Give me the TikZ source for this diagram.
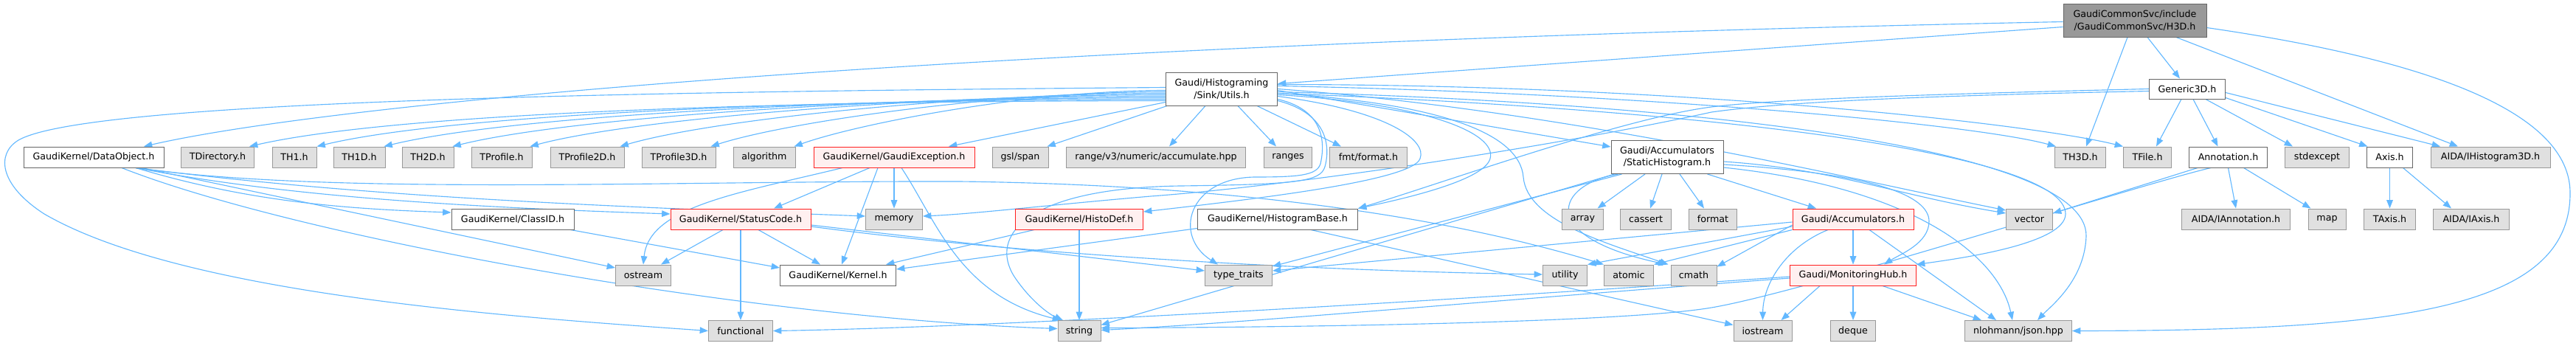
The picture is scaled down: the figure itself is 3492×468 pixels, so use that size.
\documentclass[tikz,border=0pt]{standalone}
\usepackage{fontspec}
\setmainfont{DejaVu Sans}
\usetikzlibrary{arrows.meta,calc,backgrounds}
\definecolor{edgec}{HTML}{63B8FF}
\definecolor{gborder}{HTML}{999999}
\definecolor{gfill}{HTML}{E0E0E0}
\definecolor{wborder}{HTML}{666666}
\definecolor{rfill}{HTML}{FFF0F0}
\definecolor{rborder}{HTML}{FF2020}
\definecolor{mfill}{HTML}{999999}
\begin{document}
\begin{tikzpicture}[x=0.75pt,y=-0.75pt,
  font=\fontsize{9.5}{12.5}\selectfont,
  nd/.style={draw, line width=0.75pt, inner sep=0pt, minimum height=21pt, align=center, anchor=center},
  ext/.style={nd, draw=gborder, fill=gfill},
  wht/.style={nd, draw=wborder, fill=white},
  trunc/.style={nd, draw=rborder, fill=rfill},
  mainn/.style={nd, draw=wborder, fill=mfill},
  two/.style={minimum height=33.75pt},
  wd/.style={minimum width=#1*0.75pt},
  e/.style={draw=edgec, line width=0.85pt, -{Triangle[length=8.5pt,width=6.5pt]}}]
\useasboundingbox (0,0) rectangle (3492,468);
% ---------- nodes ----------
\node[mainn,two,wd=194] (M) at (2894,27.5) {GaudiCommonSvc/include\\/GaudiCommonSvc/H3D.h};
\node[wht,two,wd=151] (U) at (1656,120.5) {Gaudi/Histograming\\/Sink/Utils.h};
\node[wht,wd=103,minimum height=20.25pt] (G) at (2965,120.5) {Generic3D.h};
% row 3
\node[wht,wd=190] (DO) at (127,213) {GaudiKernel/DataObject.h};
\node[ext,wd=99] (TDir) at (295,213) {TDirectory.h};
\node[ext,wd=60] (TH1) at (399,213) {TH1.h};
\node[ext,wd=70] (TH1D) at (487,213) {TH1D.h};
\node[ext,wd=70] (TH2D) at (580,213) {TH2D.h};
\node[ext,wd=82] (TP) at (680,213) {TProfile.h};
\node[ext,wd=100] (TP2) at (796,213) {TProfile2D.h};
\node[ext,wd=100] (TP3) at (920,213) {TProfile3D.h};
\node[ext,wd=84] (alg) at (1036,213) {algorithm};
\node[trunc,wd=218] (GE) at (1212,213) {GaudiKernel/GaudiException.h};
\node[ext,wd=76] (gsl) at (1383,213) {gsl/span};
\node[ext,wd=243] (rng) at (1567,213) {range/v3/numeric/accumulate.hpp};
\node[ext,wd=65] (ranges) at (1746,213) {ranges};
\node[ext,wd=105] (fmt) at (1855,213) {fmt/format.h};
\node[wht,two,wd=152] (SH) at (2260,213) {Gaudi/Accumulators\\/StaticHistogram.h};
\node[ext,wd=69] (TH3D) at (2820,213) {TH3D.h};
\node[ext,wd=65] (TFile) at (2911,213) {TFile.h};
\node[wht,wd=106] (An) at (3020.5,213) {Annotation.h};
\node[ext,wd=87] (stdx) at (3141,213) {stdexcept};
\node[wht,wd=62] (Ax) at (3239.5,213) {Axis.h};
\node[ext,wd=162] (IH) at (3376,213) {AIDA/IHistogram3D.h};
% row 4
\node[wht,wd=166] (CID) at (695,297) {GaudiKernel/ClassID.h};
\node[trunc,wd=190] (SC) at (1004,297) {GaudiKernel/StatusCode.h};
\node[ext,wd=77] (mem) at (1212,297) {memory};
\node[trunc,wd=173] (HD) at (1463,297) {GaudiKernel/HistoDef.h};
\node[wht,wd=217] (HB) at (1732,297) {GaudiKernel/HistogramBase.h};
\node[ext,wd=56] (arr) at (2145.5,297) {array};
\node[ext,wd=69] (cas) at (2231,297) {cassert};
\node[ext,wd=65] (fmtstd) at (2322,297) {format};
\node[trunc,wd=164] (Acc) at (2512,297) {Gaudi/Accumulators.h};
\node[ext,wd=63] (vec) at (2751,297) {vector};
\node[ext,wd=147] (IAnn) at (3031,297) {AIDA/IAnnotation.h};
\node[ext,wd=51] (map) at (3154.5,297) {map};
\node[ext,wd=70] (TAx) at (3239.5,297) {TAxis.h};
\node[ext,wd=103] (IAx) at (3350,297) {AIDA/IAxis.h};
% row 5
\node[ext,wd=75] (ost) at (872,373) {ostream};
\node[wht,wd=157] (Ker) at (1136,373) {GaudiKernel/Kernel.h};
\node[ext,wd=91] (tt) at (1679,373) {type\_traits};
\node[ext,wd=60] (uti) at (2121.5,373) {utility};
\node[ext,wd=67] (ato) at (2208,373) {atomic};
\node[ext,wd=62] (cma) at (2296,373) {cmath};
\node[trunc,wd=171] (MH) at (2512,373) {Gaudi/MonitoringHub.h};
% row 6
\node[ext,wd=87] (fun) at (1004,448.5) {functional};
\node[ext,wd=58] (str) at (1463,448.5) {string};
\node[ext,wd=79] (ios) at (2389.5,448.5) {iostream};
\node[ext,wd=61] (deq) at (2512,448.5) {deque};
\node[ext,wd=145] (json) at (2736,448.5) {nlohmann/json.hpp};
% ---------- edges ----------
\begin{pgfonlayer}{background}
% main
\draw[e] ($(M.west)+(0,2)$) .. controls (1300,60) and (450,140) .. ($(DO.north)+(68,0)$);
\draw[e] ($(M.west)+(0,9)$) -- ($(U.east)+(0,-7)$);
\draw[e] ($(M.south)+(17,0)$) -- ($(G.north)+(-10,0)$);
\draw[e] ($(M.south)+(-10,0)$) -- ($(TH3D.north)+(8,0)$);
\draw[e] ($(M.south)+(56,0)$) -- ($(IH.north)+(-44,0)$);
\draw[e] ($(M.east)+(0,10)$) .. controls (3250,75) and (3482,140) .. (3484,260) .. controls (3486,420) and (3250,448) .. (json.east);
% Utils, left side
\draw[e] ($(U.west)+(0,16)$) .. controls +(-430,0) and +(220,-50) .. ($(TDir.north east)+(-7,0)$);
\draw[e] ($(U.west)+(0,14)$) .. controls +(-400,0) and +(200,-48) .. (TH1.north east);
\draw[e] ($(U.west)+(0,12)$) .. controls +(-370,0) and +(185,-45) .. ($(TH1D.north east)+(-2,0)$);
\draw[e] ($(U.west)+(0,10)$) .. controls +(-340,0) and +(170,-42) .. ($(TH2D.north east)+(-2,0)$);
\draw[e] ($(U.west)+(0,8)$) .. controls +(-300,0) and +(150,-40) .. ($(TP.north east)+(-3,0)$);
\draw[e] ($(U.west)+(0,6)$) .. controls +(-260,0) and +(130,-38) .. ($(TP2.north east)+(-6,0)$);
\draw[e] ($(U.west)+(0,4)$) .. controls +(-220,0) and +(110,-35) .. ($(TP3.north east)+(-7,0)$);
\draw[e] ($(U.west)+(0,2)$) .. controls +(-180,0) and +(90,-32) .. ($(alg.north east)+(-2,0)$);
\draw[e] ($(U.west)+(0,-2)$) .. controls (900,124) and (120,135) .. (25,190) .. controls (-5,208) and (-2,250) .. (60,290) .. controls (250,400) and (700,430) .. (fun.west);
\draw[e] ($(U.west)+(0,18)$) -- ($(GE.north)+(74,0)$);
\draw[e] ($(U.south west)+(2,0)$) -- ($(gsl.north east)+(-2,0)$);
\draw[e] ($(U.south)+(-22,0)$) -- ($(rng.north)+(18,0)$);
\draw[e] ($(U.south)+(22,0)$) -- ($(ranges.north)+(-16,0)$);
\draw[e] ($(U.south)+(48,0)$) -- ($(fmt.north)+(-37,0)$);
% Utils, right side
\draw[e] ($(U.east)+(0,2)$) -- ($(SH.west)+(0,-14)$);
\draw[e] ($(U.east)+(0,-4)$) .. controls +(500,10) and +(-110,-30) .. ($(TH3D.north west)+(2,0)$);
\draw[e] ($(U.east)+(0,-6)$) .. controls +(550,0) and +(-120,-30) .. (TFile.north west);
\draw[e] ($(U.east)+(0,0)$) .. controls +(400,30) and +(-200,-40) .. ($(vec.west)+(0,-12)$);
\draw[e] ($(U.east)+(0,4)$) .. controls (2300,140) and (2830,200) .. (2828,320) .. controls (2826,380) and (2780,415) .. ($(json.north)+(26,0)$);
\draw[e] ($(U.east)+(0,6)$) .. controls (2350,150) and (2800,210) .. (2800,290) .. controls (2800,330) and (2660,350) .. (MH.north east);
\draw[e] ($(U.east)+(0,10)$) .. controls (1880,150) and (1935,190) .. (1925,215) .. controls (1915,245) and (1700,270) .. ($(HD.east)+(0,-10)$);
\draw[e] ($(U.east)+(0,8)$) .. controls (1930,140) and (2030,180) .. (2020,215) .. controls (2012,245) and (1900,270) .. (HB.north east);
\draw[e] ($(U.east)+(0,6)$) .. controls (1950,140) and (2060,180) .. (2065,240) .. controls (2070,300) and (2180,330) .. ($(cma.north west)+(-3,0)$);
\draw[e] ($(U.east)+(0,14)$) .. controls (1800,150) and (1795,200) .. (1790,222) .. controls (1785,238) and (1760,240) .. (1700,240) .. controls (1610,242) and (1590,320) .. ($(tt.north)+(-28,0)$);
\draw[e] ($(U.east)+(0,16)$) .. controls (1805,155) and (1802,205) .. (1796,226) .. controls (1790,246) and (1760,250) .. (1600,252) .. controls (1390,255) and (1340,320) .. (1375,375) .. controls (1395,405) and (1420,425) .. ($(str.north)+(-22,0)$);
% Generic3D
\draw[e] ($(G.south)+(-8,0)$) -- ($(TFile.north)+(12,0)$);
\draw[e] ($(G.south)+(8,0)$) -- ($(An.north)+(-14,0)$);
\draw[e] ($(G.south)+(25,0)$) -- ($(stdx.north)+(-33,0)$);
\draw[e] ($(G.south east)+(0,-2)$) -- ($(Ax.north)+(-30,0)$);
\draw[e] ($(G.east)+(0,5)$) -- ($(IH.north)+(-68,0)$);
\draw[e] (G.west) .. controls (2600,128) and (2400,135) .. (2320,145) .. controls (2200,160) and (1950,250) .. (HB.north east);
\draw[e] ($(G.west)+(0,3)$) .. controls (2600,130) and (2420,138) .. (2320,152) .. controls (2100,200) and (1750,252) .. (1560,266) .. controls (1420,278) and (1320,290) .. ($(mem.east)+(0,-4)$);
% Annotation, Axis
\draw[e] (An.south) -- (IAnn.north);
\draw[e] ($(An.south)+(21,0)$) -- ($(map.north)+(-22,0)$);
\draw[e] ($(An.south west)+(12,0)$) -- ($(vec.east)+(0,-8)$);
\draw[e] ($(An.south west)+(30,0)$) .. controls (2900,250) and (2450,395) .. (2320,417) .. controls (2190,439) and (1700,444) .. ($(str.east)+(0,-4)$);
\draw[e] (Ax.south) -- (TAx.north);
\draw[e] ($(Ax.south)+(18,0)$) -- ($(IAx.north)+(-27,0)$);
% StaticHistogram
\draw[e] ($(SH.south)+(-30,0)$) -- ($(arr.north)+(20,0)$);
\draw[e] ($(SH.south)+(-7,0)$) -- ($(cas.north)+(6,0)$);
\draw[e] ($(SH.south)+(17,0)$) -- ($(fmtstd.north)+(-12,0)$);
\draw[e] ($(SH.south east)+(-22,0)$) -- ($(Acc.north)+(-50,0)$);
\draw[e] ($(SH.east)+(0,6)$) .. controls +(150,10) and +(-150,-25) .. ($(vec.west)+(0,-8)$);
\draw[e] ($(SH.east)+(0,10)$) .. controls (2540,235) and (2615,265) .. (2615,300) .. controls (2615,330) and (2575,345) .. ($(MH.north)+(42,0)$);
\draw[e] ($(SH.east)+(0,14)$) .. controls (2600,255) and (2710,350) .. ($(json.north)+(-8,0)$);
\draw[e] ($(SH.south west)+(15,0)$) -- ($(tt.east)+(0,-12)$);
\draw[e] ($(SH.south west)+(5,0)$) -- ($(str.east)+(0,-8)$);
\draw[e] ($(SH.south west)+(10,0)$) .. controls (2110,250) and (2080,320) .. ($(cma.north west)+(-5,0)$);
% Accumulators
\draw[e] (Acc.south) -- (MH.north);
\draw[e] ($(Acc.south)+(-34,0)$) .. controls (2420,335) and (2390,385) .. (ios.north);
\draw[e] ($(Acc.south)+(22,0)$) -- ($(json.north)+(-30,0)$);
\draw[e] ($(Acc.west)+(0,8)$) -- ($(cma.north east)+(0,3)$);
\draw[e] (Acc.south west) -- (ato.north east);
\draw[e] ($(Acc.west)+(0,10)$) -- (uti.north east);
\draw[e] ($(Acc.west)+(0,4)$) -- ($(tt.east)+(0,-6)$);
% MonitoringHub
\draw[e] ($(MH.south)+(-45,0)$) -- ($(ios.north)+(25,0)$);
\draw[e] (MH.south) -- (deq.north);
\draw[e] ($(MH.south)+(40,0)$) -- ($(json.north)+(-50,0)$);
\draw[e] ($(MH.west)+(0,2)$) .. controls +(-500,35) and +(300,-5) .. (fun.east);
\draw[e] ($(MH.west)+(0,4)$) .. controls +(-400,30) and +(200,-10) .. ($(str.east)+(0,-1)$);
% DataObject
\draw[e] ($(DO.south)+(57,0)$) .. controls +(150,45) and +(-150,-5) .. ($(CID.west)+(0,-9)$);
\draw[e] ($(DO.south)+(57,0)$) .. controls +(200,38) and +(-300,-10) .. ($(SC.west)+(0,-7)$);
\draw[e] ($(DO.south)+(57,0)$) .. controls +(300,38) and +(-400,-15) .. ($(mem.west)+(0,-4)$);
\draw[e] ($(DO.south)+(57,0)$) .. controls (450,265) and (900,245) .. (1300,246) .. controls (1650,250) and (1950,290) .. (ato.north west);
\draw[e] ($(DO.south)+(65,0)$) -- ($(ost.west)+(0,-10)$);
\draw[e] ($(DO.south)+(38,0)$) .. controls (400,320) and (1000,430) .. ($(str.west)+(0,-3)$);
% GaudiException
\draw[e] ($(GE.south)+(-33,0)$) -- ($(SC.north)+(45,0)$);
\draw[e] ($(GE.south)+(-70,0)$) .. controls (1000,262) and (880,280) .. (ost.north);
\draw[e] ($(GE.south)+(-22,0)$) -- ($(Ker.north)+(5,0)$);
\draw[e] (GE.south) -- (mem.north);
\draw[e] ($(GE.south)+(10,0)$) .. controls (1270,300) and (1300,400) .. ($(str.north)+(-25,0)$);
% StatusCode
\draw[e] ($(SC.south)+(-24,0)$) -- ($(ost.north)+(24,0)$);
\draw[e] (SC.south) -- (fun.north);
\draw[e] ($(SC.south)+(24,0)$) -- ($(Ker.north)+(-24,0)$);
\draw[e] ($(SC.east)+(0,8)$) -- ($(tt.west)+(0,-6)$);
\draw[e] ($(SC.east)+(0,10)$) .. controls +(300,40) and +(-300,-5) .. ($(uti.west)+(0,-1)$);
% ClassID, HistoDef, HistogramBase
\draw[e] ($(CID.south east)+(-5,0)$) -- ($(Ker.west)+(0,-10)$);
\draw[e] ($(HD.south west)+(26,0)$) -- ($(Ker.north east)+(-14,0)$);
\draw[e] (HD.south) -- (str.north);
\draw[e] ($(HB.south west)+(0,-2)$) -- ($(Ker.east)+(0,-8)$);
\draw[e] ($(HB.south)+(45,0)$) -- ($(ios.west)+(0,-8)$);
\end{pgfonlayer}
\end{tikzpicture}
\end{document}
